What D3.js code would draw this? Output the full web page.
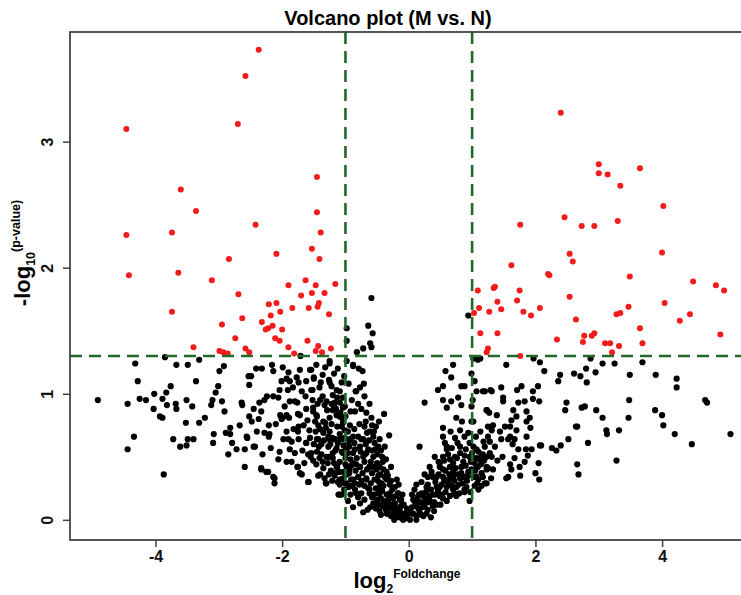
<!DOCTYPE html>
<html>
<head>
<meta charset="utf-8">
<script src="https://cdn.jsdelivr.net/npm/d3@7"></script>
<style>
  body { margin: 0; background: #fff; }
  svg { display: block; font-family: "Liberation Sans", Arial, sans-serif; }
</style>
</head>
<body>
<svg id="chart" width="741" height="595"></svg>
<script>
// significant, down-regulated (log2FC <= -1, -log10 p >= 1.3)
const sigDown = [
  [-2.37,3.73],[-2.58,3.52],[-4.46,3.10],[-2.70,3.14],[-1.45,2.72],[-3.60,2.62],[-3.36,2.45],[-1.45,2.44],
  [-2.42,2.34],[-4.46,2.26],[-3.74,2.28],[-1.39,2.28],[-1.53,2.15],[-2.09,2.11],[-1.41,2.07],[-2.84,2.07],
  [-4.42,1.94],[-3.64,1.96],[-3.11,1.90],[-1.63,1.90],[-1.90,1.86],[-1.47,1.86],[-1.16,1.87],[-2.69,1.79],
  [-1.53,1.80],[-1.33,1.80],[-1.70,1.78],[-2.21,1.71],[-2.09,1.72],[-1.42,1.72],[-1.84,1.68],[-1.58,1.68],
  [-1.44,1.69],[-3.74,1.65],[-2.03,1.65],[-2.18,1.62],[-1.26,1.63],[-2.63,1.60],[-2.32,1.57],[-2.95,1.55],
  [-2.15,1.54],[-2.22,1.52],[-2.26,1.51],[-2.00,1.51],[-2.74,1.44],[-2.11,1.44],[-2.04,1.42],[-1.60,1.42],
  [-1.90,1.37],[-1.43,1.38],[-3.40,1.37],[-2.99,1.34],[-2.58,1.36],[-2.52,1.33],[-1.81,1.32],[-1.47,1.34],
  [-1.37,1.33],[-1.23,1.36],[-2.93,1.33],[-2.86,1.32]
];

// significant, up-regulated
const sigUp = [
  [2.40,3.23],[3.00,2.82],[3.00,2.75],[3.14,2.74],[3.65,2.79],[3.34,2.65],[4.02,2.49],[2.46,2.40],
  [1.76,2.34],[2.73,2.33],[2.93,2.33],[3.30,2.37],[2.54,2.11],[2.59,2.05],[4.00,2.12],[1.62,2.02],
  [2.20,1.95],[2.22,1.94],[3.49,1.93],[4.49,1.89],[4.85,1.86],[4.98,1.82],[1.09,1.82],[1.34,1.84],
  [1.36,1.85],[1.75,1.82],[2.54,1.77],[1.71,1.74],[1.40,1.73],[4.04,1.72],[1.11,1.68],[3.47,1.69],
  [1.27,1.65],[1.46,1.67],[1.81,1.65],[2.07,1.68],[1.03,1.64],[1.93,1.62],[3.28,1.63],[3.34,1.64],
  [4.44,1.63],[2.64,1.59],[4.28,1.58],[3.65,1.52],[1.13,1.48],[1.40,1.48],[4.92,1.47],[2.93,1.48],
  [2.89,1.46],[2.77,1.46],[2.34,1.43],[2.75,1.41],[3.10,1.40],[3.18,1.40],[3.69,1.40],[3.32,1.38],
  [1.25,1.36],[1.76,1.30],[3.21,1.33],[1.23,1.33]
];

// not significant
const nsPoints = [
  // left wing
  [-3.85,1.29],[-4.32,1.24],[-3.67,1.23],[-3.49,1.23],[-3.31,1.27],[-4.28,1.10],[-3.36,1.10],[-4.91,0.95],
  [-4.44,0.92],[-4.25,0.96],[-4.15,0.95],[-4.02,1.00],[-3.83,1.01],[-3.76,1.06],[-3.89,0.96],[-3.82,0.91],
  [-3.68,0.92],[-3.67,0.88],[-4.03,0.88],[-3.93,0.82],[-3.89,0.81],[-3.51,0.95],[-3.42,0.90],[-3.52,0.77],
  [-3.31,0.77],[-3.22,0.81],[-4.34,0.66],[-4.44,0.56],[-3.87,0.36],[-3.72,0.64],[-3.61,0.58],[-3.51,0.59],
  [-3.49,0.64],[-3.40,0.64],[-3.10,0.95],[-3.12,0.91],[-3.05,1.01],[-3.01,1.06],[-2.95,0.94],[-2.91,0.86],
  [-2.99,1.18],[-2.92,1.22],[-3.08,0.68],[-3.09,0.61],[-2.89,0.69],[-2.82,0.73],[-2.82,0.68],[-2.79,0.61],
  [-2.85,0.52],[-2.72,0.56],[-2.67,0.75],[-2.63,0.91],[-2.64,0.93],[-2.55,0.65],[-2.59,0.42],[-2.45,0.58],
  [-2.53,1.14],[-2.52,1.07],[-2.49,1.14],[-2.41,1.20],[-2.32,1.20],[-2.36,0.93],[-2.33,0.86],[-2.52,0.82],
  [-2.48,0.78],[-2.37,0.80],[-2.31,0.52],[-2.33,0.41],[-2.24,0.98],[-2.21,0.75],[-2.21,0.66],[-2.18,0.57],
  [-2.16,1.23],[-2.14,1.18],[-2.14,0.34],[-2.12,0.29],[-2.22,0.38],[-2.06,0.97],[-2.04,1.03],[-2.01,1.10],
  [-2.03,0.83],[-2.01,0.80],[-2.06,0.48],[-1.99,1.21],[-1.93,1.12],[-1.90,1.17],[-1.88,1.10],[-1.91,1.03],
  [-1.93,0.70],[-1.90,0.64],[-1.88,0.56],[-1.93,0.46],[-1.89,0.81],[-1.80,0.94],[-1.76,0.93],[-1.77,1.13],
  [-1.74,1.09],[-1.72,1.19],[-1.71,1.30],[-1.75,0.84],[-1.74,0.74],[-1.74,0.64],[-1.80,0.53],[-1.76,0.42],
  [-1.69,0.36],[-1.58,0.30],[-1.63,0.98],[-1.60,0.79],[-1.57,0.71],[-1.62,0.61],[-1.55,0.50],[-1.54,1.19],
  [-1.46,1.23],[-1.50,1.13],[-1.52,1.03],[-1.51,0.89],[-1.46,0.83],[-1.45,0.64],[-1.42,0.58],[-1.43,0.35],
  [-1.39,1.09],[-1.40,0.95],[-1.32,0.77],[-1.27,0.66],[-1.25,1.24],[-1.25,1.09],[-1.26,0.50],[-1.31,0.29],
  [-1.17,0.35],[-1.14,1.03],[-1.17,0.93],[-1.20,0.87],[-1.11,0.20],[-1.09,0.82],[-1.06,0.74],[-1.06,0.64],
  [-1.06,1.09],[-0.88,1.23],[-0.83,1.02],
  [-1.56,1.19],[-1.50,1.12],[-1.54,1.03],[-1.41,1.05],[-1.26,1.11],[-1.22,1.06],[-1.25,1.26],[-1.20,0.99],
  [-1.13,0.97],[-1.09,1.02],[-1.33,0.91],[-1.29,0.87],[-1.18,0.90],[-1.09,0.93],[-1.04,0.89],[-1.14,0.83],
  [-1.06,0.81],[-1.25,0.81],[-1.35,0.78],[-1.43,0.75],[-1.47,0.70],[-1.35,0.69],[-1.25,0.70],[-1.17,0.64],
  [-1.09,0.68],[-1.01,0.65],[-1.21,0.65],[-1.38,0.60],[-1.27,0.58],[-1.14,0.57],[-1.06,0.54],[-1.45,0.54],
  [-1.54,0.53],[-1.41,0.49],[-1.30,0.50],[-1.20,0.49],[-1.09,0.46],[-1.00,0.44],[-1.46,0.44],[-1.35,0.41],
  [-1.17,0.37],[-1.30,0.29],[-1.09,0.28],[-0.98,0.29],[-1.09,0.20],[-1.59,0.52],[-1.56,0.65],[-1.62,0.61],
  [-1.51,0.86],[-1.45,0.82],[-2.14,0.98],[-1.99,0.81],[-1.72,0.83],[-1.75,0.70],[-1.85,0.62],[-2.04,0.54],
  [-2.20,0.68],[-2.43,0.58],[-2.56,0.66],[-2.59,0.56],[-2.33,0.40],[-2.25,0.38],[-2.12,0.33],[-1.85,0.46],
  [-1.75,0.42],[-1.59,0.30],[-1.72,0.37],[-1.93,0.83],[-1.83,1.05],[-1.88,0.94],
  [-1.52,0.95],[-1.44,0.92],[-1.36,0.98],[-1.30,0.94],[-1.22,0.92],[-1.15,0.88],[-1.08,0.85],[-1.00,0.82],
  [-1.48,0.78],[-1.40,0.72],[-1.31,0.73],[-1.22,0.76],[-1.13,0.74],[-1.04,0.77],[-0.96,0.70],
  [-1.50,0.60],[-1.43,0.64],[-1.34,0.63],[-1.24,0.60],[-1.16,0.55],[-1.03,0.59],[-0.94,0.58],
  [-1.51,0.47],[-1.38,0.52],[-1.28,0.45],[-1.23,0.39],[-1.13,0.42],[-1.03,0.38],[-0.94,0.40],
  [-1.40,0.36],[-1.33,0.33],[-1.21,0.31],[-1.12,0.30],[-1.04,0.33],[-0.95,0.26],[-1.02,0.24],[-0.92,0.20],
  [-1.62,0.88],[-1.66,0.75],[-1.68,0.55],[-1.65,0.45],[-1.82,0.72],[-1.98,0.64],[-2.10,0.76],[-2.28,0.69],
  [-2.40,0.70],[-2.28,0.95],[-2.45,0.88],[-1.96,0.90],[-1.69,1.02],[-1.62,1.10],[-1.36,1.15],[-1.32,1.21],
  [-1.18,1.16],[-1.12,1.20],[-1.02,1.14],[-0.95,1.08],
  // centre-left
  [-0.59,1.76],[-0.98,1.52],[-0.64,1.54],[-0.57,1.48],[-0.61,1.40],[-0.59,1.37],[-0.72,1.36],[-0.82,1.33],
  [-0.98,1.42],[-0.98,1.26],[-0.88,1.22],[-0.79,1.20],[-0.73,1.18],[-0.71,1.08],[-0.77,1.05],[-0.70,0.98],
  [-0.84,1.02],[-1.04,0.97],[-1.01,0.90],[-0.85,0.86],[-0.67,0.85],[-0.59,0.81],[-0.52,0.74],[-0.39,0.84],
  [-0.31,0.67],[-0.70,0.74],[-0.93,0.75],[-1.01,0.71],[-0.88,0.66],[-0.62,0.70],[-0.56,0.66],[-0.54,0.61],
  [-0.72,0.64],[-0.77,0.58],[-0.85,0.56],[-0.64,0.56],[-0.48,0.58],[-0.96,0.53],[-0.72,0.50],[-0.56,0.50],
  [-0.41,0.46],[-0.88,0.45],[-0.77,0.42],[-0.62,0.42],[-0.51,0.40],[-0.35,0.38],[-0.98,0.36],[-0.91,0.32],
  [-0.80,0.34],[-0.67,0.33],[-0.54,0.32],[-0.43,0.29],[-0.30,0.28],[-0.22,0.26],[-1.01,0.29],[-1.06,0.20],
  [-0.85,0.24],[-0.75,0.21],[-0.62,0.24],[-0.48,0.21],[-0.35,0.20],[-0.25,0.17],[-0.14,0.16],[-0.77,0.13],
  [-0.56,0.13],[-0.41,0.11],[-0.27,0.09],[-0.14,0.07],[-0.04,0.03],[0.02,0.00],[-0.09,0.00],[-0.19,0.03],
  [-0.33,0.05],[-0.46,0.07],[0.02,0.08],[-0.17,0.21],[-0.46,0.26],
  [-1.25,0.64],[-1.17,0.64],[-1.09,0.64],[-0.93,0.64],[-0.75,0.64],[-1.20,0.53],[-1.04,0.53],[-0.88,0.53],
  [-0.67,0.53],[-1.14,0.42],[-0.98,0.42],[-0.77,0.42],[-0.62,0.42],[-0.46,0.42],[-1.09,0.32],[-0.88,0.32],
  [-0.67,0.32],[-0.51,0.32],[-0.35,0.32],[-0.19,0.32],[-0.83,0.21],[-0.62,0.21],[-0.46,0.21],[-0.30,0.21],
  [-0.17,0.21],[-0.56,0.11],[-0.41,0.11],[-0.25,0.11],[-0.12,0.11],[-0.35,0.05],[-0.19,0.05],[-0.06,0.05],
  [0.04,0.05],
  [-0.95,0.62],[-0.86,0.61],[-0.80,0.66],[-0.68,0.60],[-0.58,0.55],[-0.50,0.52],[-0.45,0.36],[-0.38,0.34],
  [-0.92,0.48],[-0.82,0.49],[-0.70,0.46],[-0.60,0.46],[-0.50,0.45],[-0.40,0.40],[-0.33,0.35],[-0.28,0.31],
  [-0.94,0.37],[-0.84,0.39],[-0.73,0.37],[-0.58,0.37],[-0.48,0.35],[-0.40,0.27],[-0.26,0.24],[-0.20,0.19],
  [-0.90,0.27],[-0.78,0.28],[-0.70,0.27],[-0.60,0.29],[-0.52,0.25],[-0.42,0.23],[-0.32,0.16],[-0.22,0.13],
  [-0.80,0.18],[-0.70,0.16],[-0.58,0.18],[-0.50,0.16],[-0.40,0.15],[-0.30,0.12],[-0.18,0.09],[-0.10,0.04],
  [-0.65,0.08],[-0.52,0.09],[-0.44,0.04],[-0.36,0.08],[-0.28,0.03],[-0.24,0.06],[-0.15,0.02],[-0.06,0.01],
  [-0.88,0.10],[-0.72,0.06],[-0.96,0.15],[-0.86,0.72],[-0.78,0.76],[-0.66,0.69],[-0.46,0.64],[-0.58,0.75],
  [-0.80,0.92],[-0.75,0.88],[-0.90,0.95],[-0.62,0.92],[-0.47,0.78],[-0.44,0.55],[-0.36,0.48],[-0.28,0.42],
  [-0.16,0.28],[-0.10,0.20],[-0.08,0.12],[-0.03,0.09],
  [-1.12,0.61],[-0.99,0.56],[-0.91,0.43],[-0.83,0.44],[-0.75,0.31],[-0.66,0.40],[-0.55,0.42],[-0.47,0.30],
  [-0.85,0.29],[-0.64,0.25],[-0.55,0.20],[-0.44,0.17],[-0.37,0.13],[-0.27,0.18],[-0.21,0.10],[-0.12,0.16],
  [-0.61,0.10],[-0.48,0.12],[-0.33,0.09],[-0.23,0.00],[-0.13,0.03],[-0.03,0.04],[-1.00,0.49],[-1.10,0.38],
  [-1.18,0.45],[-1.26,0.36],[-1.36,0.46],[-0.69,0.52],[-0.76,0.54],[-0.63,0.63],[-0.53,0.56],[-0.42,0.50],
  [-0.38,0.58],[-0.92,0.86],[-0.68,0.78],[-0.55,0.70],
  // centre-right
  [0.94,1.62],[1.09,1.27],[1.02,1.28],[0.70,1.23],[0.58,1.18],[0.67,1.13],[0.54,1.06],[0.46,1.03],
  [0.83,1.06],[0.88,1.06],[1.04,1.10],[1.07,1.02],[1.17,1.02],[1.29,1.03],[0.25,0.93],[0.54,0.95],
  [0.67,0.94],[0.78,0.97],[0.83,0.91],[0.60,0.89],[0.99,0.90],[1.23,0.87],[0.75,0.81],[0.99,0.78],
  [1.25,0.74],[0.54,0.73],[0.81,0.71],[0.94,0.69],[0.54,0.66],[0.73,0.65],[0.57,0.61],[0.96,0.61],
  [0.17,0.58],[0.60,0.56],[0.81,0.53],[1.07,0.56],[1.17,0.52],[1.28,0.53],[0.41,0.50],[0.49,0.45],
  [0.65,0.48],[0.86,0.46],[1.04,0.45],[1.12,0.48],[1.23,0.40],[0.33,0.42],[0.54,0.40],[0.70,0.38],
  [0.94,0.38],[0.25,0.36],[0.44,0.34],[0.62,0.32],[0.81,0.33],[1.23,0.29],[0.12,0.28],[0.30,0.28],
  [0.49,0.26],[0.70,0.24],[0.88,0.24],[0.20,0.21],[0.38,0.20],[0.54,0.17],[0.75,0.19],[0.07,0.16],
  [0.25,0.13],[0.44,0.12],[0.15,0.09],[0.30,0.08],[0.07,0.05],[0.20,0.04],[0.12,0.00],
  [0.12,0.03],[0.23,0.03],[0.12,0.11],[0.25,0.11],[0.38,0.11],[0.23,0.19],[0.33,0.19],[0.49,0.19],
  [0.65,0.19],[0.28,0.26],[0.44,0.26],[0.60,0.26],[0.75,0.26],[0.91,0.26],[0.38,0.34],[0.54,0.34],
  [0.70,0.34],[0.86,0.34],[1.02,0.34],[1.17,0.34],[0.49,0.42],[0.65,0.42],[0.83,0.42],[1.07,0.42],
  [1.23,0.42],[0.54,0.50],[0.73,0.50],[0.96,0.50],[1.15,0.50],[0.60,0.58],[0.81,0.58],[1.02,0.58],
  [1.20,0.58],
  [0.05,0.10],[0.10,0.14],[0.18,0.14],[0.16,0.20],[0.09,0.24],[0.20,0.30],[0.27,0.22],[0.33,0.15],[0.40,0.14],
  [0.35,0.24],[0.42,0.30],[0.36,0.38],[0.30,0.34],[0.47,0.36],[0.52,0.28],[0.58,0.22],[0.63,0.29],[0.68,0.27],
  [0.58,0.39],[0.64,0.36],[0.72,0.31],[0.78,0.36],[0.85,0.29],[0.92,0.31],[0.97,0.22],[0.47,0.46],[0.56,0.47],
  [0.62,0.52],[0.70,0.45],[0.76,0.49],[0.90,0.43],[0.98,0.46],[1.05,0.39],[1.10,0.32],[1.14,0.44],[1.19,0.47],
  [0.68,0.57],[0.77,0.61],[0.90,0.56],[1.00,0.53],[1.10,0.54],[1.18,0.62],[0.88,0.66],[0.66,0.70],[0.84,0.78],
  [1.06,0.66],[1.13,0.70],[1.28,0.62],[1.36,0.58],[1.40,0.47],[1.33,0.40],[1.30,0.33],[1.10,0.24],[0.96,0.15],
  [0.28,0.05],[0.35,0.02],[0.22,0.10],[0.05,0.20],[0.42,0.20],[0.50,0.12],[0.60,0.15],[0.72,0.21],[0.80,0.21],
  [0.17,0.06],[0.31,0.14],[0.40,0.07],[0.46,0.23],[0.56,0.31],[0.66,0.33],[0.74,0.41],[0.83,0.37],[0.93,0.35],
  [0.99,0.40],[1.08,0.29],[1.15,0.27],[0.88,0.51],[1.06,0.49],[0.79,0.28],[0.52,0.20],[0.26,0.17],[0.14,0.18],
  // right wing
  [1.13,1.28],[1.54,1.23],[1.97,1.28],[2.07,1.25],[2.14,1.18],[2.39,1.15],[2.36,1.10],[2.61,1.16],
  [2.71,1.14],[2.80,1.20],[2.81,1.09],[2.87,1.28],[2.95,1.17],[3.06,1.24],[3.25,1.24],[3.49,1.15],
  [3.69,1.25],[3.90,1.15],[4.23,1.12],[4.23,1.05],[3.48,0.95],[2.49,0.93],[2.47,0.87],[2.73,0.89],
  [2.78,0.90],[2.96,0.87],[3.06,0.81],[3.47,0.81],[3.89,0.87],[4.00,0.83],[4.02,0.75],[4.68,0.95],
  [4.71,0.93],[5.08,0.68],[4.47,0.60],[4.20,0.68],[3.32,0.71],[3.12,0.71],[3.13,0.68],[2.64,0.74],
  [2.66,0.74],[2.52,0.64],[2.83,0.61],[3.28,0.47],[2.66,0.44],[2.68,0.36],[2.40,0.59],[2.26,0.57],
  [2.33,0.55],[2.09,0.59],[2.05,0.45],[2.00,0.37],[2.06,0.32],[1.76,0.35],[1.57,0.34],[1.54,0.33],
  [1.48,0.50],[1.60,0.44],[1.62,0.40],[1.67,0.49],[1.83,0.46],[1.88,0.51],[1.94,0.56],[1.85,0.56],
  [1.73,0.56],[1.64,0.60],[1.46,0.64],[1.57,0.64],[1.67,0.64],[1.44,0.70],[1.52,0.74],[1.60,0.74],
  [1.70,0.71],[1.92,0.73],[1.86,0.78],[1.91,0.81],[1.86,0.86],[1.70,0.82],[1.62,0.79],[1.65,0.87],
  [1.73,0.93],[1.83,0.94],[1.96,0.96],[2.06,0.94],[1.96,1.02],[2.04,1.06],[1.71,1.03],[1.78,1.06],
  [1.46,1.05],[1.49,0.97],[1.49,0.94],[1.31,1.02],[1.20,1.02],[1.23,0.87],[1.27,0.85],[1.39,0.83],
  [1.33,0.75],[1.31,0.71],[1.25,0.66],[1.02,0.78],[1.01,0.95],[0.99,1.16],[2.07,0.59],[1.86,0.66],
  [1.60,0.66],[1.75,0.42],[1.20,0.29],[1.04,0.27],[0.88,0.22],[1.12,0.49],[1.23,0.50],[1.31,0.50],
  [1.09,0.42],[1.25,0.41],[1.15,0.37],[1.07,0.34]
];

const xTicks = [-4, -2, 0, 2, 4];
const yTicks = [0, 1, 2, 3];
const fcCut = 1;      // |log2 fold change| threshold
const pCut = 1.3;     // -log10(0.05)

const svg = d3.select("#chart");
const plotL = 70, plotR = 752, plotT = 32, plotB = 540;

const x = d3.scaleLinear().domain([-5.35, 5.42]).range([plotL, plotR]);
const y = d3.scaleLinear().domain([-0.16, 3.87]).range([plotB, plotT]);

// title
svg.append("text")
  .attr("x", 388).attr("y", 25)
  .attr("text-anchor", "middle")
  .attr("font-size", 20).attr("font-weight", "bold")
  .text("Volcano plot (M vs. N)");

// points
const g = svg.append("g");
g.selectAll(".ns").data(nsPoints).enter().append("circle")
  .attr("cx", d => x(d[0])).attr("cy", d => y(d[1]))
  .attr("r", 3.1).attr("fill", "#000");
g.selectAll(".sig").data(sigDown.concat(sigUp)).enter().append("circle")
  .attr("cx", d => x(d[0])).attr("cy", d => y(d[1]))
  .attr("r", 3).attr("fill", "#f21c1c");

// threshold lines
function dashed(sel) {
  return sel.attr("stroke", "#22692a").attr("stroke-width", 2.6).attr("stroke-dasharray", "12,7");
}
[-fcCut, fcCut].forEach(v => {
  svg.append("line")
    .attr("x1", x(v)).attr("x2", x(v)).attr("y1", plotT).attr("y2", plotB)
    .call(dashed);
});
svg.append("line")
  .attr("x1", plotL).attr("x2", plotR).attr("y1", y(pCut)).attr("y2", y(pCut))
  .call(dashed);

// frame
svg.append("rect")
  .attr("x", plotL).attr("y", plotT)
  .attr("width", plotR - plotL).attr("height", plotB - plotT)
  .attr("fill", "none").attr("stroke", "#444").attr("stroke-width", 1.8);

// x axis
const xAxis = svg.append("g")
  .attr("transform", "translate(0," + plotB + ")")
  .call(d3.axisBottom(x).tickValues(xTicks).tickSize(7).tickSizeOuter(0));
xAxis.select(".domain").remove();
xAxis.selectAll("line").attr("stroke", "#444").attr("stroke-width", 1.5);
xAxis.selectAll("text")
  .attr("y", 11).attr("dy", "0.71em")
  .attr("font-size", 16).attr("font-weight", "bold")
  .attr("fill", "#111")
  .style("font-family", "'Liberation Sans', Arial, sans-serif")
  .text(d => d < 0 ? "-" + Math.abs(d) : d);

// y axis
const yAxis = svg.append("g")
  .attr("transform", "translate(" + plotL + ",0)")
  .call(d3.axisLeft(y).tickValues(yTicks).tickSize(7).tickSizeOuter(0).tickFormat(d3.format("d")));
yAxis.select(".domain").remove();
yAxis.selectAll("line").attr("stroke", "#444").attr("stroke-width", 1.5);
yAxis.selectAll("text")
  .attr("x", 0).attr("y", -17).attr("dy", 0)
  .attr("transform", "rotate(-90)")
  .attr("text-anchor", "middle")
  .attr("font-size", 16).attr("font-weight", "bold")
  .attr("fill", "#111")
  .style("font-family", "'Liberation Sans', Arial, sans-serif");

// x label: log2^Foldchange
const xl = svg.append("text")
  .attr("x", 407).attr("y", 588)
  .attr("text-anchor", "middle")
  .attr("font-weight", "bold").attr("font-size", 22);
xl.append("tspan").text("log");
xl.append("tspan").attr("font-size", 12).attr("dy", 5).text("2");
xl.append("tspan").attr("font-size", 12).attr("dy", -15).text("Foldchange");

// y label: -log10^(p-value)
const yl = svg.append("text")
  .attr("transform", "translate(30,253) rotate(-90)")
  .attr("text-anchor", "middle")
  .attr("font-weight", "bold").attr("font-size", 22);
yl.append("tspan").text("-log");
yl.append("tspan").attr("font-size", 12.5).attr("dy", 5).text("10");
yl.append("tspan").attr("font-size", 12.5).attr("dy", -15).text("(p-value)");
</script>
</body>
</html>
